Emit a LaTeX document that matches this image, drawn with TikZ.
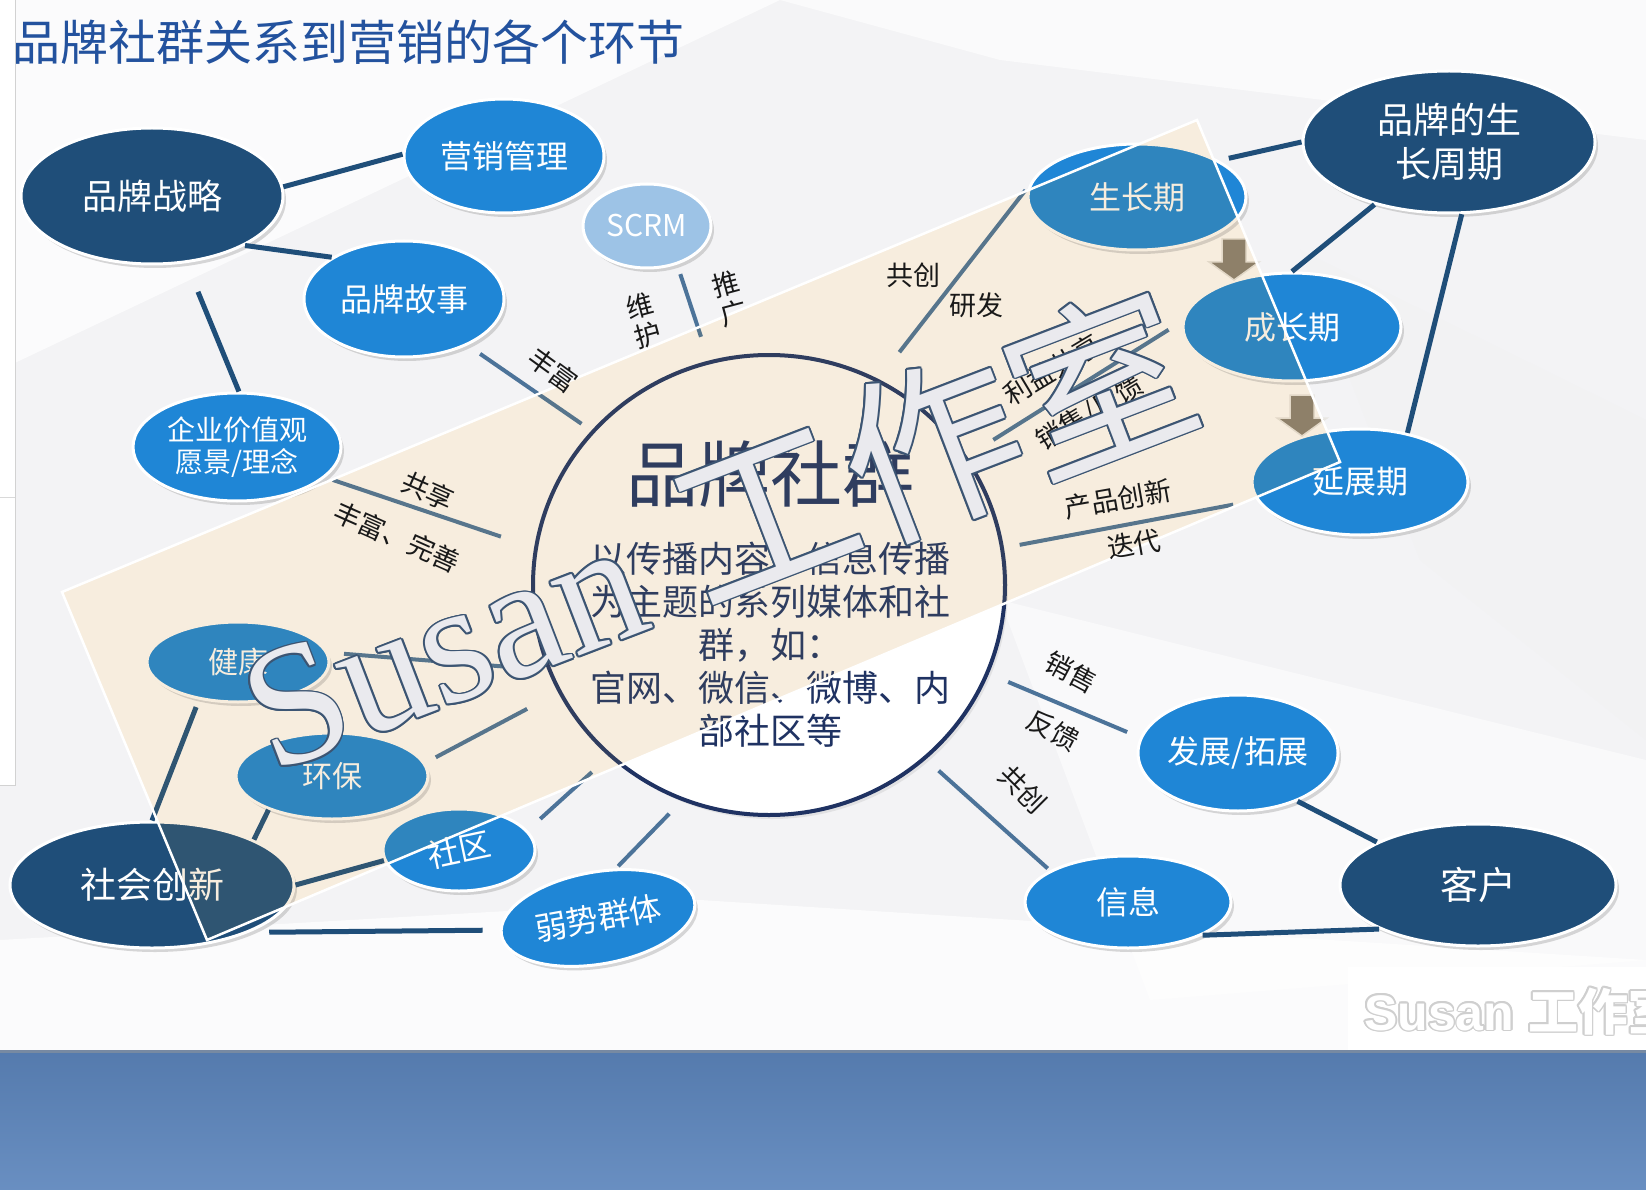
\documentclass[tikz,border=0pt]{standalone}
\usepackage{fontspec}
\setmainfont{Noto Sans CJK SC}
\newfontfamily\cjk{Noto Sans CJK SC}
\newfontfamily\wmserif{Liberation Serif}
\newfontfamily\wmsans{Liberation Sans}
\usepackage{graphicx}
\usetikzlibrary{shapes.geometric,shadows,calc}

\definecolor{navynode}{RGB}{31,78,121}
\definecolor{bluenode}{RGB}{31,134,214}
\definecolor{paleblue}{RGB}{157,195,230}
\definecolor{linkdark}{RGB}{31,78,121}
\definecolor{linksteel}{RGB}{76,115,153}
\definecolor{corenavy}{RGB}{31,50,98}
\definecolor{titleblue}{RGB}{35,82,158}
\definecolor{bandcream}{RGB}{253,244,230}
\definecolor{bandgray}{RGB}{200,195,185}
\definecolor{arrowbrown}{RGB}{138,128,110}
\definecolor{wmfill}{RGB}{234,234,238}
\definecolor{wmline}{RGB}{60,85,115}
\definecolor{stripblue}{RGB}{92,133,188}
\definecolor{bggray}{RGB}{243,243,245}

\newcommand{\fsz}[2]{\fontsize{#1}{#2}\selectfont}
% outlined text: name, position, options, outline colour, fill colour, text
\newcommand{\outlinetext}[6]{%
  \foreach \a in {0,30,...,330}
    \node[#3, text=#4] at ($(#2)+(\a:1.8pt)$) {#6};
  \node[#3, text=#5] (#1) at (#2) {#6};}
\newcommand{\bandpath}{(62,592) -- (1197,120) -- (1340,462) -- (207,940) -- cycle}

\begin{document}
\begin{tikzpicture}[x=1pt,y=-1pt,
    every node/.style={inner sep=0pt},
    hub/.style={ellipse, draw=white, line width=3pt, text=white, align=center,
      drop shadow={opacity=.3,shadow xshift=3pt,shadow yshift=-4pt}},
    navy hub/.style={hub, fill=navynode},
    blue hub/.style={hub, fill=bluenode},
    pale hub/.style={hub, fill=paleblue},
    tie/.style={draw=linkdark, line width=5pt},
    spoke/.style={draw=linksteel, line width=4pt},
    cue/.style={text=black!90, font=\fsz{27}{31}, align=center},
    blockarrow/.style={fill=arrowbrown, draw=white!80!arrowbrown, line width=1.5pt}]
  \useasboundingbox (0,0) rectangle (1646,1190);
  % background
  \fill[bggray] (0,0) rectangle (1646,1050);
  \fill[white, opacity=.7] (0,0) -- (780,0) -- (0,370) -- cycle;
  \fill[white, opacity=.6] (780,0) -- (1646,0) -- (1646,140) -- (1000,60) -- cycle;
  \fill[gray!10, opacity=.6] (1300,250) -- (1646,420) -- (1646,740) -- (1420,560) -- cycle;
  \fill[white, opacity=.5] (1000,600) -- (1646,760) -- (1646,960) -- (1150,1000) -- cycle;
  \fill[white, opacity=.7] (0,940) -- (700,900) -- (1646,960) -- (1646,1050) -- (0,1050) -- cycle;
  \fill[white] \bandpath;
  \filldraw[fill=white, draw=gray!35, line width=1pt] (-2,-2) rectangle (15,785);
  \draw[gray!30] (0,497) -- (15,497);
  \shade[top color=stripblue!92!black, bottom color=stripblue!92!white] (0,1050) rectangle (1646,1190);
  \draw[black!40, opacity=.5, line width=3pt] (0,1051) -- (1646,1051);
  \fill[white] (1348,967) rectangle (1660,1050);

  % centre
  \node[ellipse, fill=white, draw=corenavy, line width=4pt, minimum width=472pt, minimum height=460pt,
    drop shadow={opacity=.15,shadow xshift=3pt,shadow yshift=-4pt}] (core) at (769,585) {};
  \node[text=corenavy, font=\fsz{72}{72}] (coretitle) at (770,474) {品牌社群};
  \node[text=corenavy, font=\fsz{36}{43}, align=center] (corebody) at (770,645)
    {以传播内容、信息传播\\为主题的系列媒体和社\\群，如：\\官网、微信、微博、内\\部社区等};

  \node[text=white, opacity=.5, font=\fsz{32}{32}] (ghost) at (309,736) {弱势群体};

  % left side
  \node[navy hub, minimum width=262pt, minimum height=136pt, font=\fsz{35}{35}] (zl) at (152,196) {品牌战略};
  \node[blue hub, minimum width=200pt, minimum height=114pt, font=\fsz{32}{32}] (yx) at (504,156) {营销管理};
  \node[pale hub, minimum width=128pt, minimum height=84pt, font=\fsz{30}{30}] (scrm) at (647,226) {SCRM};
  \node[blue hub, minimum width=200pt, minimum height=116pt, font=\fsz{32}{32}] (gs) at (404,299) {品牌故事};
  \node[blue hub, minimum width=208pt, minimum height=108pt, font=\fsz{28}{32}] (jz) at (237,447) {企业价值观\\愿景/理念};
  % right side
  \node[blue hub, minimum width=218pt, minimum height=106pt, font=\fsz{32}{32}] (sz) at (1137,197) {生长期};
  \node[navy hub, minimum width=292pt, minimum height=142pt, font=\fsz{36}{44}] (zq) at (1449,142) {品牌的生\\长周期};
  \node[blue hub, minimum width=218pt, minimum height=108pt, font=\fsz{32}{32}] (cz) at (1292,327) {成长期};
  \node[blue hub, minimum width=216pt, minimum height=106pt, font=\fsz{32}{32}] (yz) at (1360,482) {延展期};
  \node[blue hub, minimum width=200pt, minimum height=116pt, font=\fsz{32}{32}] (fz) at (1238,753) {发展/拓展};
  \node[navy hub, minimum width=276pt, minimum height=122pt, font=\fsz{38}{38}] (kh) at (1478,885) {客户};
  \node[blue hub, minimum width=206pt, minimum height=92pt, font=\fsz{32}{32}] (xx) at (1128,902) {信息};
  % lower left
  \node[blue hub, minimum width=182pt, minimum height=80pt, font=\fsz{30}{30}] (jk) at (238,662) {健康};
  \node[blue hub, minimum width=192pt, minimum height=86pt, font=\fsz{30}{30}] (hb) at (332,776) {环保};
  \node[navy hub, minimum width=284pt, minimum height=126pt, font=\fsz{36}{36}] (sh) at (152,885) {社会创新};
  \node[blue hub, minimum width=152pt, minimum height=82pt, font=\fsz{32}{32}] (sq) at (459,850) {\rotatebox{12}{社区}};
  \node[blue hub, minimum width=196pt, minimum height=92pt, font=\fsz{32}{32}, rotate=10] (rs) at (598,918) {弱势群体};

  % outer links
  \draw[tie] (zl.4) -- (yx.179);
  \draw[tie] (zl.-28) -- (gs.150);
  \draw[tie, shorten <=31pt] (zl.-63) -- (jz.88);
  \draw[tie, shorten <=10pt] (sz.24) -- (zq.180);
  \draw[tie] (zq.220) -- (cz.90);
  \draw[tie] (zq.-80) -- (yz.46);
  \draw[tie] (fz.-39) -- (kh.157);
  \draw[tie] (xx.-24) -- (kh.204);
  \draw[tie, shorten <=8pt] (jk.224) -- (sh.90);
  \draw[tie] (hb.208) -- (sh.24);
  \draw[tie] (sh.0) -- (sq.188);
  \draw[tie, shorten <=20pt, shorten >=17pt] (sh.-26) -- (rs.177);
  % links to the centre
  \draw[spoke, shorten <=15pt, shorten >=12pt] (gs.-36) -- (core.139);   % 丰富
  \draw[spoke, shorten <=10pt, shorten >=25pt] (scrm.-52) -- (core.105); % 维护 推广
  \draw[spoke, shorten <=8pt, shorten >=35pt] (jz.-19) -- (core.171);    % 共享
  \draw[spoke, shorten <=26pt, shorten >=34pt] (sz.164) -- (core.62);    % 共创 研发
  \draw[spoke, shorten <=16pt, shorten >=31pt] (cz.177) -- (core.33);    % 利益共享
  \draw[spoke, shorten <=24pt, shorten >=16pt] (yz.190) -- (core.9);     % 产品创新
  \draw[spoke, shorten <=21pt, shorten >=14pt] (core.-22) -- (fz.171);   % 销售 反馈
  \draw[spoke, shorten <=17pt, shorten >=3pt] (core.-48) -- (xx.158);    % 共创
  \draw[spoke, shorten <=16pt, shorten >=34pt] (jk.6) -- (core.201);
  \draw[spoke, shorten <=12pt, shorten >=35pt] (hb.8) -- (core.207);
  \draw[spoke, shorten <=17pt, shorten >=23pt] (sq.16) -- (core.227);
  \draw[spoke, shorten <=3pt, shorten >=18pt] (rs.60) -- (core.248);

  % growth arrows
  \foreach \x/\y in {1234/239, 1302/395}
    \filldraw[blockarrow] ({\x-12},\y) -- ({\x+12},\y) -- ({\x+12},\y+23) -- ({\x+25},\y+23)
      -- (\x,\y+41) -- ({\x-25},\y+23) -- ({\x-12},\y+23) -- cycle;

  % band
  \fill[bandgray, opacity=.1] \bandpath;
  \begin{scope}[blend mode=multiply]
    \fill[bandcream] \bandpath;
  \end{scope}
  \draw[white, line width=2.5pt] \bandpath;

  % labels
  \node[cue, rotate=-36] (lb1) at (553,370) {丰富};
  \node[cue, rotate=15, font=\fsz{27}{30}] (lb2) at (644,321) {维\\护};
  \node[cue, rotate=15, font=\fsz{27}{30}] (lb3) at (730,299) {推\\广};
  \node[cue, rotate=-24] (lb4) at (428,491) {共享};
  \node[cue, rotate=-24] (lb5) at (397,537) {丰富、完善};
  \node[cue] (lb6) at (913,275) {共创};
  \node[cue] (lb7) at (976,305) {研发};
  \node[cue, rotate=31] (lb8) at (1052,370) {利益共享};
  \node[cue, rotate=31] (lb9) at (1090,413) {销售/反馈};
  \node[cue, rotate=10] (lb10) at (1118,499) {产品创新};
  \node[cue, rotate=10] (lb11) at (1134,544) {迭代};
  \node[cue, rotate=-28] (lb12) at (1071,672) {销售};
  \node[cue, rotate=-28] (lb13) at (1053,730) {反馈};
  \node[cue, rotate=-45] (lb14) at (1023,789) {共创};

  % title and watermarks
  \node[anchor=west, text=titleblue, font=\fsz{48}{48}] (title) at (12,42) {品牌社群关系到营销的各个环节};
  \outlinetext{wmbig}{272,774}{anchor=base west, rotate=21, font=\fsz{172}{172}}{wmline}{wmfill}{{\wmserif Susan}\hspace{52pt}{\cjk\fsz{180}{180}工作室}}
  \outlinetext{wmsmall}{1364,1030}{anchor=base west, font=\fsz{50}{50}\bfseries}{gray!38}{white}{{\wmsans Susan }{\cjk 工作室}}
\end{tikzpicture}
\end{document}
